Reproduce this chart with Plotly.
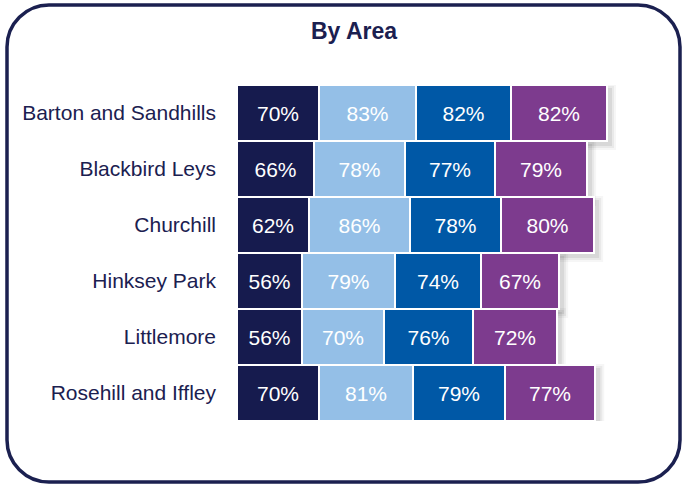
import plotly.graph_objects as go

# Survey results by area (percent)
areas = ["Barton and Sandhills", "Blackbird Leys", "Churchill",
         "Hinksey Park", "Littlemore", "Rosehill and Iffley"]
series_names = ["Q1", "Q2", "Q3", "Q4"]
q1 = [70, 66, 62, 56, 56, 70]
q2 = [83, 78, 86, 79, 70, 81]
q3 = [82, 77, 78, 74, 76, 79]
q4 = [82, 79, 80, 67, 72, 77]
series_values = [q1, q2, q3, q4]
colors = ["#161b4e", "#94bfe7", "#0058a6", "#7d3b8e"]

W, H = 683, 486
ML, MR, MT, MB = 237, 46, 85, 65
PW, PH = W - ML - MR, H - MT - MB
X_MAX = 342.7                      # axis range so that 1 unit ~ 1.167 px
ux = X_MAX / PW                    # data units per pixel (x)
uy = len(areas) / PH               # category units per pixel (y)

fig = go.Figure()
for name, vals, col in zip(series_names, series_values, colors):
    fig.add_trace(go.Bar(
        y=areas, x=vals, name=name, orientation="h",
        marker=dict(color=col, line=dict(color="white", width=2)),
        text=[f"{v}%" for v in vals], textposition="inside",
        insidetextanchor="middle", textangle=0, constraintext="none",
        textfont=dict(family="Liberation Sans, Arial", size=21, color="white"),
        hoverinfo="skip",
    ))

# soft drop shadow behind each stacked row
totals = [sum(v) for v in zip(*series_values)]
shapes = []
for i, t in enumerate(totals):
    for grow, alpha in ((4, 0.035), (2, 0.05), (0, 0.07)):
        shapes.append(dict(
            type="rect", xref="x", yref="y", layer="below",
            x0=-2 * ux, x1=t + (5 + grow) * ux,
            y0=i - 0.5 + (3 - grow) * uy, y1=i + 0.5 + (5 + grow) * uy,
            fillcolor=f"rgba(0,0,0,{alpha})", line=dict(width=0),
        ))


def px(xp):
    return (xp - ML) / PW


def py(yp):
    return (H - MB - yp) / PH


# rounded outer frame (cubic arcs for circular corners)
x0, x1, y0, y1, r = 7, 680, 5, 482, 42
k = r * 0.448  # control-point inset for a quarter circle (1 - 0.552)
path = (
    f"M {px(x0 + r)} {py(y0)} L {px(x1 - r)} {py(y0)} "
    f"C {px(x1 - k)} {py(y0)} {px(x1)} {py(y0 + k)} {px(x1)} {py(y0 + r)} "
    f"L {px(x1)} {py(y1 - r)} "
    f"C {px(x1)} {py(y1 - k)} {px(x1 - k)} {py(y1)} {px(x1 - r)} {py(y1)} "
    f"L {px(x0 + r)} {py(y1)} "
    f"C {px(x0 + k)} {py(y1)} {px(x0)} {py(y1 - k)} {px(x0)} {py(y1 - r)} "
    f"L {px(x0)} {py(y0 + r)} "
    f"C {px(x0)} {py(y0 + k)} {px(x0 + k)} {py(y0)} {px(x0 + r)} {py(y0)} Z"
)
shapes.append(dict(type="path", xref="paper", yref="paper", path=path,
                   line=dict(color="#1b2050", width=3.5), layer="above"))

fig.update_layout(
    width=W, height=H, barmode="stack", bargap=0,
    margin=dict(l=ML, r=MR, t=MT, b=MB),
    paper_bgcolor="white", plot_bgcolor="white",
    showlegend=False, shapes=shapes,
    title=dict(text="<b>By Area</b>", xref="container", yref="container",
               x=354 / W, y=1 - 31 / H, xanchor="center", yanchor="middle",
               font=dict(family="Liberation Sans, Arial", size=23, color="#1b2050")),
    xaxis=dict(range=[0, X_MAX], visible=False, fixedrange=True),
    yaxis=dict(range=[len(areas) - 0.5, -0.5], showgrid=False, zeroline=False,
               showline=False, ticks="", ticklabelstandoff=20,
               tickfont=dict(family="Liberation Sans, Arial", size=21, color="#1b2050")),
)

fig.write_html("out.html")
